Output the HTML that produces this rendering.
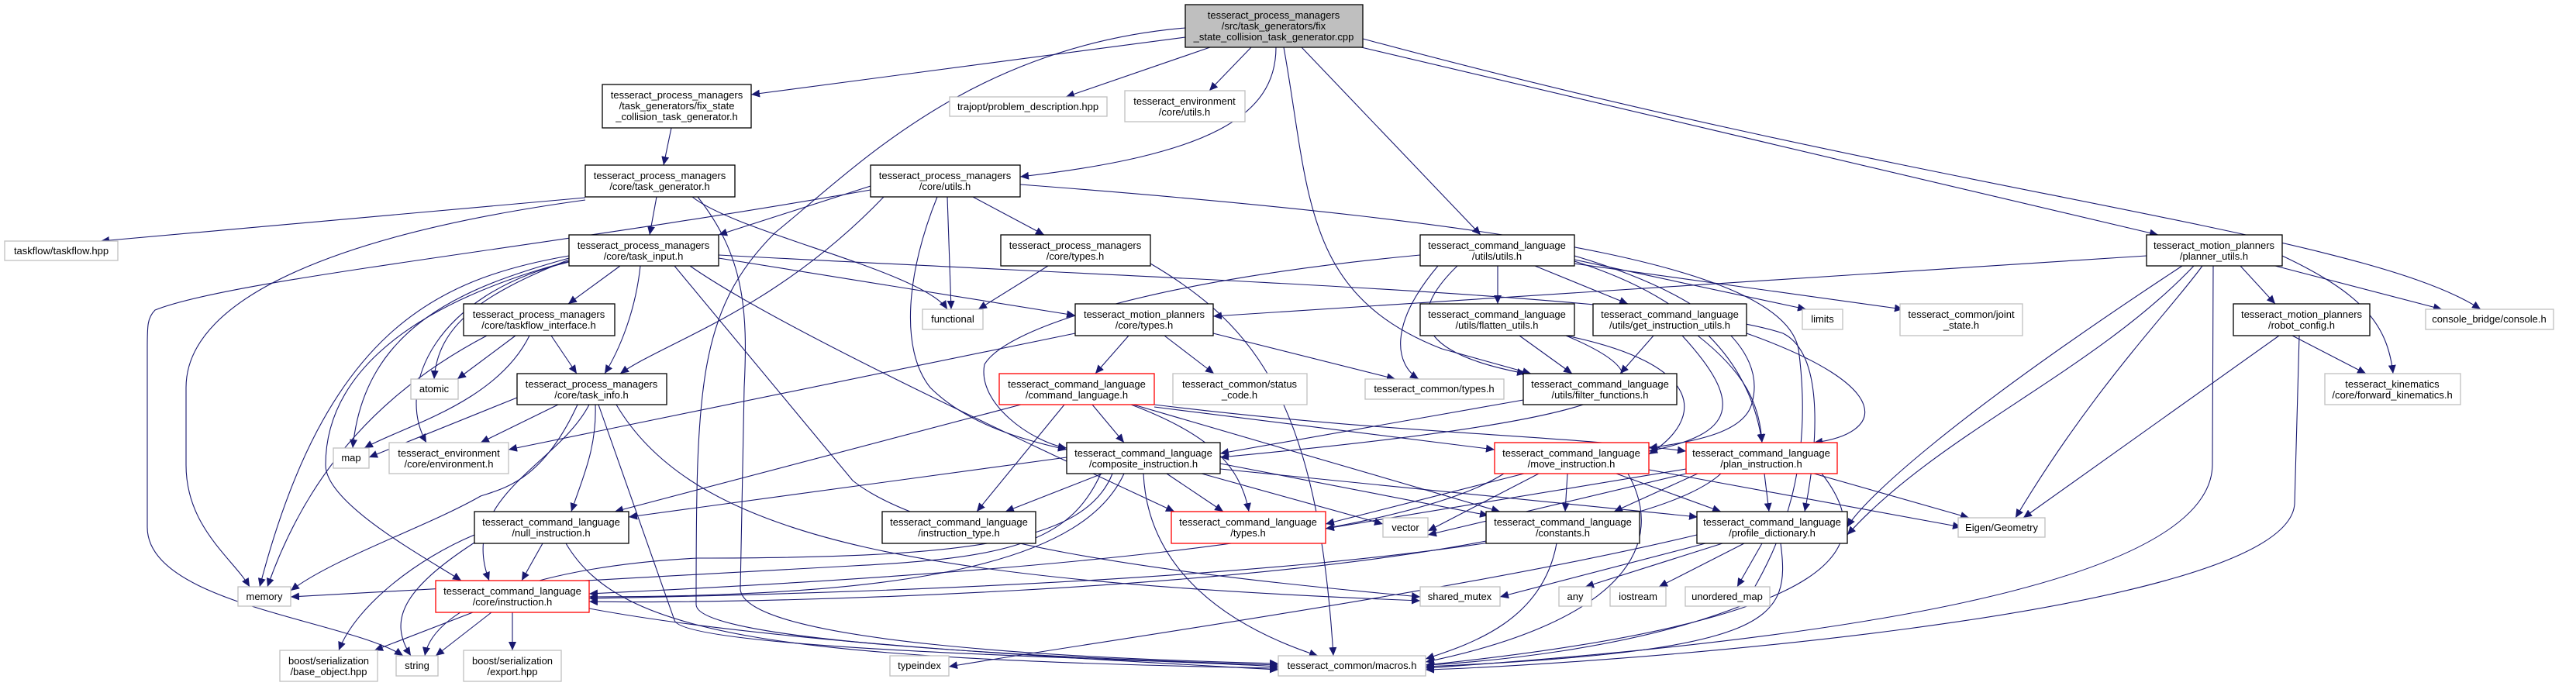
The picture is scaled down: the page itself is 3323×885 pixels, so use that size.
<!DOCTYPE html>
<html><head><meta charset="utf-8"><style>
html,body{margin:0;padding:0;background:#fff;}
svg{display:block;}
text{font-family:"Liberation Sans",sans-serif;font-size:13px;fill:#000;text-anchor:middle;}
.n{fill:#fff;stroke:#000;stroke-width:1.3;}
.g{fill:#fff;stroke:#bfbfbf;stroke-width:1.3;}
.r{fill:#fff;stroke:#ff0000;stroke-width:1.3;}
.e{fill:none;stroke:#191970;stroke-width:1.1;marker-end:url(#a);}
</style></head><body>
<svg width="3323" height="885" viewBox="0 0 3323 885" xmlns="http://www.w3.org/2000/svg">
<defs><marker id="a" markerUnits="userSpaceOnUse" markerWidth="12" markerHeight="10" refX="11" refY="5" orient="auto"><path d="M0,0 L11,5 L0,10 z" fill="#191970"/></marker></defs>
<g>
<!-- root edges -->
<path class="e" d="M1529,48 L969,122"/>
<path class="e" d="M1561,61 L1375,125"/>
<path class="e" d="M1614,61 L1560,117"/>
<path class="e" d="M1646,61 C1646,150 1560,200 1316,228"/>
<path class="e" d="M1679,61 L1910,303"/>
<path class="e" d="M1756,61 L2784,303"/>
<path class="e" d="M1758,50 C2500,250 3050,300 3200,399"/>
<path class="e" d="M1656,61 C1690,250 1680,380 1860,450 L1975,482"/>
<path class="e" d="M1529,36 C1250,60 1100,220 1000,300 C900,400 898,500 898,780 C898,830 1400,850 1649,858"/>
<!-- fsc -->
<path class="e" d="M866,165 L856,213"/>
<!-- task_generator -->
<path class="e" d="M755,255 L130,311"/>
<path class="e" d="M847,254 L838,303"/>
<path class="e" d="M755,258 C450,300 240,380 240,500 L240,600 C240,680 300,720 322,757"/>
<path class="e" d="M893,254 C950,300 1190,350 1222,399"/>
<path class="e" d="M900,254 C960,330 965,400 960,500 L955,760 C960,830 1400,850 1649,856"/>
<!-- pm utils -->
<path class="e" d="M1123,240 L927,303"/>
<path class="e" d="M1140,254 C1000,400 860,440 800,482"/>
<path class="e" d="M1209,254 C1170,350 1160,450 1200,500 C1250,550 1330,570 1376,580"/>
<path class="e" d="M1222,254 L1227,399"/>
<path class="e" d="M1255,254 L1347,303"/>
<path class="e" d="M1123,245 C700,320 300,360 200,400 C190,410 190,420 190,450 L190,680 C190,780 450,800 520,846"/>
<path class="e" d="M1316,238 C2000,290 2300,350 2320,450 C2340,600 2300,700 2250,780 C2100,840 1900,855 1839,858"/>
<!-- pm types -->
<path class="e" d="M1352,343 L1262,399"/>
<path class="e" d="M1484,340 C1620,420 1700,520 1720,846"/>
<!-- task_input -->
<path class="e" d="M800,343 L733,392"/>
<path class="e" d="M826,343 C820,400 800,450 780,482"/>
<path class="e" d="M734,335 C620,380 565,420 560,489"/>
<path class="e" d="M734,333 C600,370 470,420 455,578"/>
<path class="e" d="M734,338 C560,380 510,500 550,571"/>
<path class="e" d="M734,330 C560,360 420,430 335,757"/>
<path class="e" d="M734,337 C500,400 420,500 420,600 C420,650 550,720 595,749"/>
<path class="e" d="M927,333 L1387,407"/>
<path class="e" d="M927,329 C1500,360 2150,380 2300,430 C2360,460 2340,600 2328,660"/>
<path class="e" d="M870,343 L1100,620 C1200,700 1500,740 1832,770"/>
<path class="e" d="M890,343 C1000,420 1300,560 1515,660"/>
<!-- taskflow_interface -->
<path class="e" d="M628,433 C500,500 400,600 345,757"/>
<path class="e" d="M665,433 L590,489"/>
<path class="e" d="M683,433 C640,520 520,550 470,578"/>
<path class="e" d="M711,433 L744,482"/>
<!-- task_info -->
<path class="e" d="M667,513 L476,590"/>
<path class="e" d="M720,522 L620,571"/>
<path class="e" d="M768,522 C770,580 750,620 737,660"/>
<path class="e" d="M745,522 C700,620 650,630 620,640 C550,680 430,720 375,762"/>
<path class="e" d="M760,522 C720,600 590,640 631,749"/>
<path class="e" d="M772,522 L870,800 C880,840 1500,850 1649,860"/>
<path class="e" d="M795,522 C900,700 1200,750 1832,775"/>
<!-- null -->
<path class="e" d="M700,701 L673,749"/>
<path class="e" d="M612,690 C540,720 460,780 437,839"/>
<path class="e" d="M612,700 C520,760 500,800 530,846"/>
<path class="e" d="M730,701 C800,820 1000,850 1649,862"/>
<!-- instruction -->
<path class="e" d="M610,790 L483,839"/>
<path class="e" d="M634,790 L562,846"/>
<path class="e" d="M661,790 L661,839"/>
<path class="e" d="M760,785 C1000,830 1400,850 1649,864"/>
<!-- command_language -->
<path class="e" d="M1409,522 L1450,571"/>
<path class="e" d="M1373,522 L1260,660"/>
<path class="e" d="M1317,522 L793,660"/>
<path class="e" d="M1459,522 C1560,560 1600,600 1611,660"/>
<path class="e" d="M1489,525 L1928,580"/>
<path class="e" d="M1489,522 C1800,560 2000,560 2175,582"/>
<path class="e" d="M1462,522 L1935,660"/>
<!-- composite -->
<path class="e" d="M1422,611 L1297,660"/>
<path class="e" d="M1505,611 L1578,660"/>
<path class="e" d="M1550,611 L1784,676"/>
<path class="e" d="M1574,598 L1920,665"/>
<path class="e" d="M1574,605 L2190,667"/>
<path class="e" d="M1376,590 L811,667"/>
<path class="e" d="M1450,611 C1400,720 1200,770 760,770"/>
<path class="e" d="M1475,611 C1480,720 1560,800 1700,846"/>
<path class="e" d="M1420,611 C1380,700 1300,720 1100,730 L375,770"/>
<path class="e" d="M1435,611 C1400,700 1250,720 900,720 C700,730 560,780 548,846"/>
<!-- move -->
<path class="e" d="M1966,611 L1710,676"/>
<path class="e" d="M1985,611 L1842,685"/>
<path class="e" d="M2022,611 L2019,660"/>
<path class="e" d="M2085,611 L2220,660"/>
<path class="e" d="M2127,606 L2530,680"/>
<path class="e" d="M1940,611 C1800,700 1300,740 760,766"/>
<path class="e" d="M2100,611 C2150,700 2100,800 1839,854"/>
<!-- plan -->
<path class="e" d="M2175,605 L1710,682"/>
<path class="e" d="M2175,611 L1842,690"/>
<path class="e" d="M2190,611 L2082,660"/>
<path class="e" d="M2276,611 L2282,660"/>
<path class="e" d="M2340,611 L2540,668"/>
<path class="e" d="M2220,611 C2100,720 1400,760 760,772"/>
<path class="e" d="M2350,611 C2420,700 2400,800 1839,858"/>
<!-- profile -->
<path class="e" d="M2200,701 L1935,770"/>
<path class="e" d="M2222,701 L2045,757"/>
<path class="e" d="M2250,701 L2140,757"/>
<path class="e" d="M2273,701 L2241,757"/>
<path class="e" d="M2297,701 C2310,800 2290,840 1839,860"/>
<path class="e" d="M2189,690 C1900,760 1400,830 1224,860"/>
<!-- constants -->
<path class="e" d="M2008,701 C1990,800 1900,830 1839,850"/>
<path class="e" d="M1917,698 C1600,760 1000,780 760,776"/>
<!-- mp types -->
<path class="e" d="M1456,433 L1413,482"/>
<path class="e" d="M1502,433 L1566,482"/>
<path class="e" d="M1565,430 L1800,489"/>
<path class="e" d="M1387,430 L656,580"/>
<!-- cl utils -->
<path class="e" d="M1932,343 L1932,392"/>
<path class="e" d="M1980,343 L2100,392"/>
<path class="e" d="M1832,329 C1500,360 1300,420 1270,470 C1260,520 1330,570 1376,578"/>
<path class="e" d="M1880,343 C1800,420 1850,460 1968,482"/>
<path class="e" d="M1855,343 C1790,420 1800,470 1830,489"/>
<path class="e" d="M2031,335 L2330,399"/>
<path class="e" d="M2031,340 L2455,399"/>
<path class="e" d="M2031,330 C2200,380 2280,450 2260,520 C2250,560 2180,570 2127,578"/>
<path class="e" d="M2031,337 C2200,390 2260,480 2273,571"/>
<!-- flatten -->
<path class="e" d="M1960,433 L2028,482"/>
<path class="e" d="M2020,433 C2200,470 2200,540 2127,586"/>
<path class="e" d="M2020,433 C2180,500 2100,540 1574,590"/>
<!-- get_instruction -->
<path class="e" d="M2133,433 L2090,482"/>
<path class="e" d="M2170,433 C2250,520 2240,560 2127,582"/>
<path class="e" d="M2190,433 C2250,480 2270,520 2273,571"/>
<path class="e" d="M2253,430 C2450,500 2430,560 2340,571"/>
<!-- filter -->
<path class="e" d="M1965,516 L1574,585"/>
<!-- planner -->
<path class="e" d="M2769,330 L1565,408"/>
<path class="e" d="M2890,343 L2935,392"/>
<path class="e" d="M2935,343 L3150,399"/>
<path class="e" d="M2841,343 C2800,400 2700,500 2600,668"/>
<path class="e" d="M2944,330 C3050,380 3080,420 3087,482"/>
<path class="e" d="M2815,343 C2500,550 2400,650 2383,680"/>
<path class="e" d="M2830,343 C2700,480 2500,560 2383,690"/>
<path class="e" d="M2855,343 L2854,600 C2850,800 2000,850 1839,862"/>
<!-- robot -->
<path class="e" d="M2940,433 L2610,668"/>
<path class="e" d="M2957,433 L3052,482"/>
<path class="e" d="M2966,433 L2960,650 C2950,800 2000,860 1839,864"/>
</g>
<g>
<rect x="1529" y="6" width="229" height="55" fill="#bfbfbf" stroke="#000" stroke-width="1.3"/>
<text x="1643" y="24">tesseract_process_managers</text><text x="1643" y="38">/src/task_generators/fix</text><text x="1643" y="52">_state_collision_task_generator.cpp</text>
<rect class="n" x="777" y="109" width="192" height="56"/>
<text x="873" y="127">tesseract_process_managers</text><text x="873" y="141">/task_generators/fix_state</text><text x="873" y="155">_collision_task_generator.h</text>
<rect class="n" x="755" y="213" width="193" height="41"/><text x="851" y="231">tesseract_process_managers</text><text x="851" y="245">/core/task_generator.h</text>
<rect class="g" x="6" y="311" width="146" height="25"/><text x="79" y="328">taskflow/taskflow.hpp</text>
<rect class="n" x="734" y="303" width="193" height="40"/><text x="830" y="321">tesseract_process_managers</text><text x="830" y="335">/core/task_input.h</text>
<rect class="n" x="598" y="392" width="195" height="41"/><text x="695" y="410">tesseract_process_managers</text><text x="695" y="424">/core/taskflow_interface.h</text>
<rect class="g" x="1225" y="125" width="203" height="25"/><text x="1326" y="142">trajopt/problem_description.hpp</text>
<rect class="g" x="1451" y="117" width="155" height="40"/><text x="1528" y="135">tesseract_environment</text><text x="1528" y="149">/core/utils.h</text>
<rect class="n" x="1123" y="213" width="193" height="41"/><text x="1219" y="231">tesseract_process_managers</text><text x="1219" y="245">/core/utils.h</text>
<rect class="n" x="1291" y="303" width="193" height="40"/><text x="1387" y="321">tesseract_process_managers</text><text x="1387" y="335">/core/types.h</text>
<rect class="n" x="1832" y="303" width="199" height="40"/><text x="1931" y="321">tesseract_command_language</text><text x="1931" y="335">/utils/utils.h</text>
<rect class="g" x="1190" y="399" width="78" height="26"/><text x="1229" y="416">functional</text>
<rect class="n" x="1387" y="392" width="178" height="41"/><text x="1476" y="410">tesseract_motion_planners</text><text x="1476" y="424">/core/types.h</text>
<rect class="n" x="1832" y="392" width="199" height="41"/><text x="1931" y="410">tesseract_command_language</text><text x="1931" y="424">/utils/flatten_utils.h</text>
<rect class="n" x="2055" y="392" width="198" height="41"/><text x="2154" y="410">tesseract_command_language</text><text x="2154" y="424">/utils/get_instruction_utils.h</text>
<rect class="n" x="2769" y="303" width="175" height="40"/><text x="2856" y="321">tesseract_motion_planners</text><text x="2856" y="335">/planner_utils.h</text>
<rect class="g" x="2325" y="399" width="52" height="26"/><text x="2351" y="416">limits</text>
<rect class="g" x="2451" y="392" width="158" height="41"/><text x="2530" y="410">tesseract_common/joint</text><text x="2530" y="424">_state.h</text>
<rect class="n" x="2881" y="392" width="176" height="41"/><text x="2969" y="410">tesseract_motion_planners</text><text x="2969" y="424">/robot_config.h</text>
<rect class="g" x="3129" y="399" width="165" height="26"/><text x="3211" y="416">console_bridge/console.h</text>
<rect class="g" x="530" y="489" width="61" height="26"/><text x="560" y="506">atomic</text>
<rect class="n" x="667" y="482" width="193" height="40"/><text x="763" y="500">tesseract_process_managers</text><text x="763" y="514">/core/task_info.h</text>
<rect class="g" x="430" y="578" width="46" height="26"/><text x="453" y="595">map</text>
<rect class="g" x="502" y="571" width="154" height="40"/><text x="579" y="589">tesseract_environment</text><text x="579" y="603">/core/environment.h</text>
<rect class="n" x="612" y="660" width="199" height="41"/><text x="711" y="678">tesseract_command_language</text><text x="711" y="692">/null_instruction.h</text>
<rect class="g" x="307" y="757" width="68" height="25"/><text x="341" y="774">memory</text>
<rect class="r" x="562" y="749" width="198" height="41"/><text x="661" y="767">tesseract_command_language</text><text x="661" y="781">/core/instruction.h</text>
<rect class="g" x="361" y="839" width="126" height="40"/><text x="424" y="857">boost/serialization</text><text x="424" y="871">/base_object.hpp</text>
<rect class="g" x="511" y="846" width="54" height="26"/><text x="538" y="863">string</text>
<rect class="g" x="598" y="839" width="126" height="40"/><text x="661" y="857">boost/serialization</text><text x="661" y="871">/export.hpp</text>
<rect class="r" x="1289" y="482" width="200" height="40"/><text x="1389" y="500">tesseract_command_language</text><text x="1389" y="514">/command_language.h</text>
<rect class="g" x="1513" y="482" width="173" height="40"/><text x="1599" y="500">tesseract_common/status</text><text x="1599" y="514">_code.h</text>
<rect class="g" x="1761" y="489" width="179" height="26"/><text x="1850" y="506">tesseract_common/types.h</text>
<rect class="n" x="1965" y="482" width="198" height="40"/><text x="2064" y="500">tesseract_command_language</text><text x="2064" y="514">/utils/filter_functions.h</text>
<rect class="n" x="1376" y="571" width="198" height="40"/><text x="1475" y="589">tesseract_command_language</text><text x="1475" y="603">/composite_instruction.h</text>
<rect class="r" x="1928" y="571" width="199" height="40"/><text x="2027" y="589">tesseract_command_language</text><text x="2027" y="603">/move_instruction.h</text>
<rect class="r" x="2175" y="571" width="195" height="40"/><text x="2272" y="589">tesseract_command_language</text><text x="2272" y="603">/plan_instruction.h</text>
<rect class="n" x="1138" y="660" width="198" height="41"/><text x="1237" y="678">tesseract_command_language</text><text x="1237" y="692">/instruction_type.h</text>
<rect class="r" x="1511" y="660" width="199" height="41"/><text x="1610" y="678">tesseract_command_language</text><text x="1610" y="692">/types.h</text>
<rect class="g" x="1784" y="668" width="58" height="25"/><text x="1813" y="685">vector</text>
<rect class="n" x="1917" y="660" width="198" height="41"/><text x="2016" y="678">tesseract_command_language</text><text x="2016" y="692">/constants.h</text>
<rect class="n" x="2189" y="660" width="194" height="41"/><text x="2286" y="678">tesseract_command_language</text><text x="2286" y="692">/profile_dictionary.h</text>
<rect class="g" x="1832" y="757" width="103" height="25"/><text x="1883" y="774">shared_mutex</text>
<rect class="g" x="2011" y="757" width="42" height="25"/><text x="2032" y="774">any</text>
<rect class="g" x="2077" y="757" width="72" height="25"/><text x="2113" y="774">iostream</text>
<rect class="g" x="2174" y="757" width="109" height="25"/><text x="2228" y="774">unordered_map</text>
<rect class="g" x="1148" y="846" width="76" height="26"/><text x="1186" y="863">typeindex</text>
<rect class="g" x="1649" y="846" width="190" height="26"/><text x="1744" y="863">tesseract_common/macros.h</text>
<rect class="g" x="2526" y="668" width="112" height="25"/><text x="2582" y="685">Eigen/Geometry</text>
<rect class="g" x="2999" y="482" width="175" height="40"/><text x="3086" y="500">tesseract_kinematics</text><text x="3086" y="514">/core/forward_kinematics.h</text>
</g>
</svg>
</body></html>
